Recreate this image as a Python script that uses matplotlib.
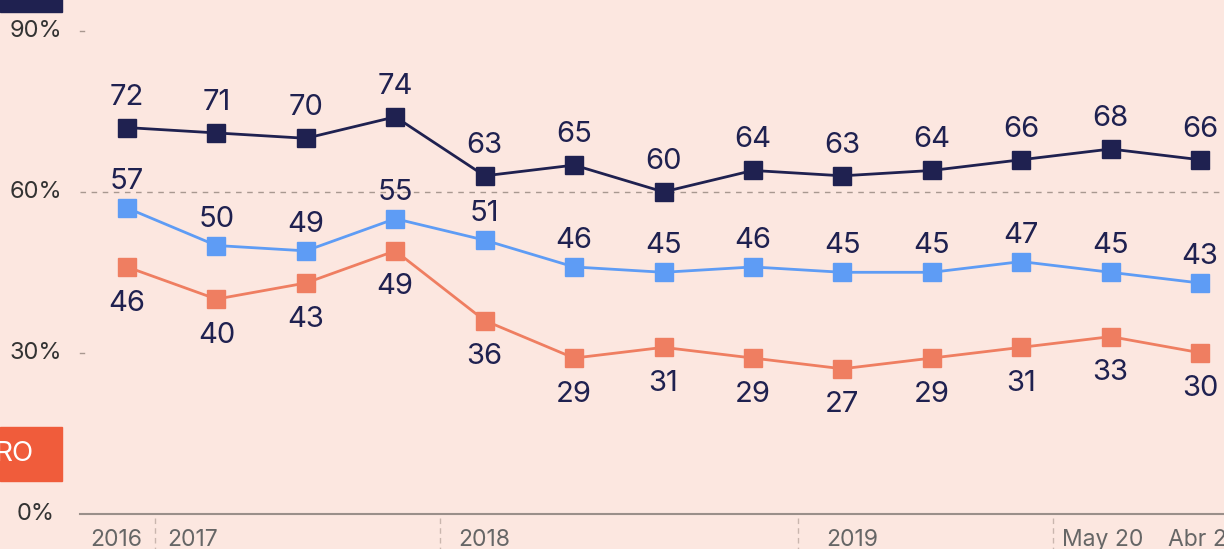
import matplotlib
matplotlib.use('Agg')
import matplotlib.pyplot as plt
from matplotlib.patches import Rectangle

# data
navy_vals = [72, 71, 70, 74, 63, 65, 60, 64, 63, 64, 66, 68, 66]
blue_vals = [57, 50, 49, 55, 51, 46, 45, 46, 45, 45, 47, 45, 43]
orange_vals = [46, 40, 43, 49, 36, 29, 31, 29, 27, 29, 31, 33, 30]
y_ticks = [0, 30, 60, 90]
y_labels = ['0%', '30%', '60%', '90%']
period_labels = ['2016', '2017', '2018', '2019', 'May 20', 'Abr 21']
period_label_pos = [-0.41, 0.45, 3.7, 7.82, 10.46, 11.64]
separators = [0.31, 3.5, 7.5, 10.36]

BG = '#FCE7E0'
NAVY = '#1F2150'
BLUE = '#5E9CF5'
ORANGE = '#EF7E61'
plt.rcParams['font.family'] = ['Inter', 'DejaVu Sans']

fig = plt.figure(figsize=(12.24, 5.49), dpi=100, facecolor=BG)
ax = fig.add_axes([0, 0, 1, 1])
ax.set_facecolor(BG)
ax.set_xlim(-1.42, 12.268)
ax.set_ylim(-6.62, 95.8)
ax.axis('off')

x = list(range(len(navy_vals)))
x0 = -0.526

# grid / axis
ax.plot([x0, 13], [60, 60], color='#a89890', lw=1, ls=(0, (4, 4)), zorder=1)
ax.plot([x0, 13], [0, 0], color='#9a8f8a', lw=1.5, zorder=1)
for t in (30, 90):
    ax.plot([x0, x0 + 0.04], [t, t], color='#a89890', lw=1, zorder=1)
for t, lab in zip(y_ticks, y_labels):
    ax.text(-1.018, t, lab, ha='center', va='center', fontsize=17, color='#333333')

for s in separators:
    ax.plot([s, s], [-0.9, -7], color='#c9b6ae', lw=1, ls=(0, (4, 3)), zorder=1)
for p, lab in zip(period_label_pos, period_labels):
    ax.text(p, -4.9, lab, ha='left', va='center', fontsize=16.5, color='#666666')

series = [
    (navy_vals, NAVY, 22, 'bottom'),
    (blue_vals, BLUE, 19, 'bottom'),
    (orange_vals, ORANGE, -26, 'top'),
]
for vals, col, off, va in series:
    ax.plot(x, vals, color=col, lw=2.0, marker='s', markersize=13, zorder=3)
    for xi, v in zip(x, vals):
        ax.annotate(str(v), (xi, v), xytext=(0, off), textcoords='offset points',
                    ha='center', va='center', fontsize=21, color=NAVY, zorder=4)

# cropped legend boxes
fig.patches.append(Rectangle((0, 1 - 12 / 549), 62 / 1224, 12 / 549 + 0.01,
                             transform=fig.transFigure, color=NAVY, zorder=5))
fig.patches.append(Rectangle((0, 68 / 549), 62 / 1224, 54 / 549,
                             transform=fig.transFigure, color='#F05C3B', zorder=5))
fig.text(34 / 1224, 95 / 549, 'RO', ha='right', va='center', fontsize=20,
         color='white', zorder=6)

fig.savefig('out.png', dpi=100, facecolor=BG)
